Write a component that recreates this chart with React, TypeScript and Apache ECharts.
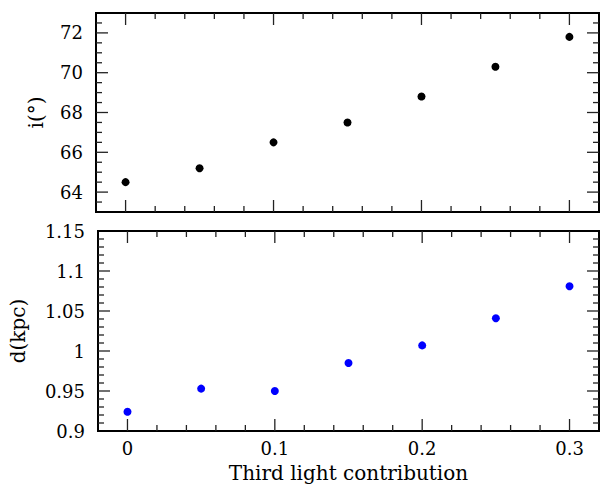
import React, { useEffect, useRef } from "react";
import * as echarts from "echarts";

const lightFraction = [0, 0.05, 0.1, 0.15, 0.2, 0.25, 0.3];
const inclination = [64.5, 65.2, 66.5, 67.5, 68.8, 70.3, 71.8];
const distanceKpc = [0.924, 0.953, 0.95, 0.985, 1.007, 1.041, 1.081];

// tick values
const xMajorTicks = [0, 0.1, 0.2, 0.3];
const xMinorTicks = [0.02, 0.04, 0.06, 0.08, 0.12, 0.14, 0.16, 0.18, 0.22, 0.24, 0.26, 0.28];
const incMajorTicks = [64, 66, 68, 70, 72];
const incMinorTicks = [63.5, 64.5, 65, 65.5, 66.5, 67, 67.5, 68.5, 69, 69.5, 70.5, 71, 71.5, 72.5];
const distMajorTicks = [0.95, 1, 1.05, 1.1];
const distMinorTicks = [
  0.91, 0.92, 0.93, 0.94, 0.96, 0.97, 0.98, 0.99, 1.01, 1.02, 1.03, 1.04,
  1.06, 1.07, 1.08, 1.09, 1.11, 1.12, 1.13, 1.14,
];

const X_MIN = -0.02;
const X_MAX = 0.32;
const INC_MIN = 63;
const INC_MAX = 73;
const DIST_MIN = 0.9;
const DIST_MAX = 1.15;

const FONT = "DejaVu Serif";
const TICK_COLOR = "#222";
const MAJOR_LEN = 12;
const MINOR_LEN = 6;

const labelStyle = { fontFamily: FONT, fontSize: 18, color: "#000" };
const nameStyle = { fontFamily: FONT, fontSize: 20, color: "#000" };

// one tick series: edge = "bottom" | "top" | "left" | "right"
function tickSeries(gridIndex: number, edge: string, edgeValue: number, values: number[], len: number) {
  const vertical = edge === "bottom" || edge === "top";
  const dir = edge === "bottom" ? -1 : edge === "top" ? 1 : edge === "left" ? 1 : -1;
  return {
    type: "custom",
    coordinateSystem: "cartesian2d",
    xAxisIndex: gridIndex,
    yAxisIndex: gridIndex,
    clip: false,
    encode: { x: 0, y: 1 },
    data: values.map((v) => (vertical ? [v, edgeValue] : [edgeValue, v])),
    renderItem: (params: any, api: any) => {
      const p = api.coord([api.value(0), api.value(1)]);
      const shape = vertical
        ? { x1: p[0], y1: p[1], x2: p[0], y2: p[1] + dir * len }
        : { x1: p[0], y1: p[1], x2: p[0] + dir * len, y2: p[1] };
      return { type: "line", shape, style: { stroke: TICK_COLOR, lineWidth: 1.3 } };
    },
  };
}

function gridTicks(gridIndex: number, yMin: number, yMax: number, yMaj: number[], yMinr: number[]) {
  return [
    tickSeries(gridIndex, "bottom", yMin, xMajorTicks, MAJOR_LEN),
    tickSeries(gridIndex, "bottom", yMin, xMinorTicks, MINOR_LEN),
    tickSeries(gridIndex, "top", yMax, xMajorTicks, MAJOR_LEN),
    tickSeries(gridIndex, "top", yMax, xMinorTicks, MINOR_LEN),
    tickSeries(gridIndex, "left", X_MIN, yMaj, MAJOR_LEN),
    tickSeries(gridIndex, "left", X_MIN, yMinr, MINOR_LEN),
    tickSeries(gridIndex, "right", X_MAX, yMaj, MAJOR_LEN),
    tickSeries(gridIndex, "right", X_MAX, yMinr, MINOR_LEN),
  ];
}

export default function App() {
  const ref = useRef<HTMLDivElement>(null);

  useEffect(() => {
    if (!ref.current) return;
    const chart = echarts.init(ref.current, null, { renderer: "svg" });

    const xBase = {
      type: "value",
      min: X_MIN,
      max: X_MAX,
      splitNumber: 3,
      splitLine: { show: false },
      axisLine: { show: false, onZero: false },
      axisTick: { show: false },
    };
    const yBase = {
      type: "value",
      splitLine: { show: false },
      axisLine: { show: false, onZero: false },
      axisTick: { show: false },
    };

    chart.setOption({
      animation: false,
      grid: [
        { left: 96, top: 13, width: 503, height: 199, show: true, borderColor: "#000", borderWidth: 2, backgroundColor: "transparent" },
        { left: 96, top: 231, width: 503, height: 200, show: true, borderColor: "#000", borderWidth: 2, backgroundColor: "transparent" },
      ],
      xAxis: [
        { ...xBase, gridIndex: 0, position: "bottom", axisLabel: { show: false } },
        {
          ...xBase,
          gridIndex: 1,
          position: "bottom",
          name: "Third light contribution",
          nameLocation: "middle",
          nameGap: 32,
          nameTextStyle: nameStyle,
          axisLabel: { show: true, showMinLabel: false, showMaxLabel: false, margin: 8, ...labelStyle },
        },
      ],
      yAxis: [
        {
          ...yBase,
          gridIndex: 0,
          position: "left",
          min: INC_MIN,
          max: INC_MAX,
          name: "i(°)",
          nameLocation: "middle",
          nameGap: 50,
          nameTextStyle: nameStyle,
          axisLabel: { show: true, showMinLabel: false, showMaxLabel: false, margin: 13, ...labelStyle },
        },
        {
          ...yBase,
          gridIndex: 1,
          position: "left",
          min: DIST_MIN,
          max: DIST_MAX,
          interval: 0.05,
          name: "d(kpc)",
          nameLocation: "middle",
          nameGap: 70,
          nameTextStyle: nameStyle,
          axisLabel: { show: true, margin: 13, ...labelStyle },
        },
      ],
      series: [
        ...gridTicks(0, INC_MIN, INC_MAX, incMajorTicks, incMinorTicks),
        ...gridTicks(1, DIST_MIN, DIST_MAX, distMajorTicks, distMinorTicks),
        {
          type: "scatter",
          xAxisIndex: 0,
          yAxisIndex: 0,
          symbol: "circle",
          symbolSize: 8,
          itemStyle: { color: "#000", opacity: 1 },
          data: lightFraction.map((x, i) => [x, inclination[i]]),
        },
        {
          type: "scatter",
          xAxisIndex: 1,
          yAxisIndex: 1,
          symbol: "circle",
          symbolSize: 8,
          itemStyle: { color: "#0000ff", opacity: 1 },
          data: lightFraction.map((x, i) => [x, distanceKpc[i]]),
        },
      ],
    });

    return () => chart.dispose();
  }, []);

  return <div ref={ref} style={{ position: "absolute", left: 0, top: 0, width: 600, height: 484 }} />;
}
